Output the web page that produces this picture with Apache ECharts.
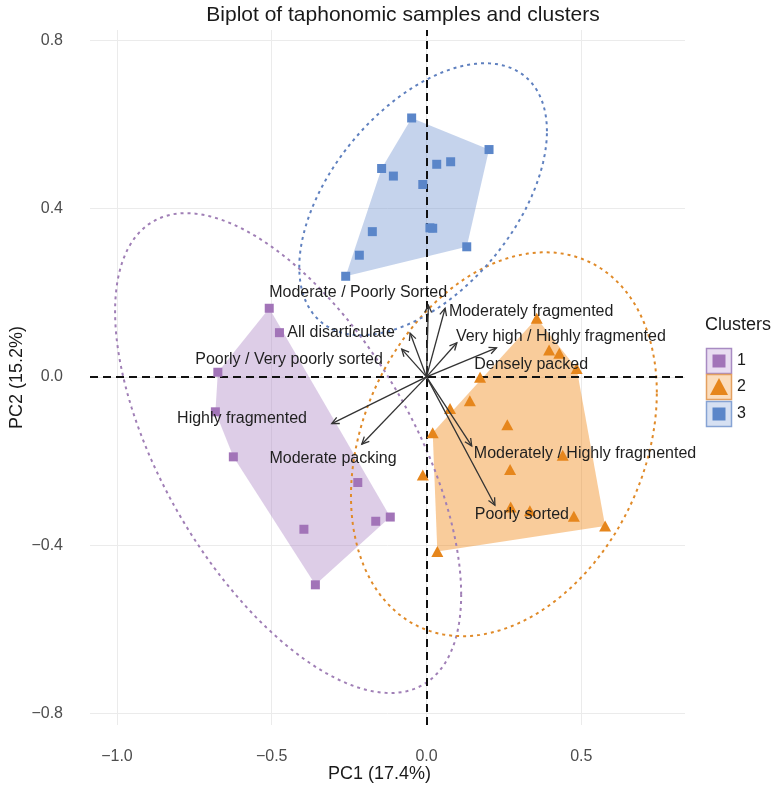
<!DOCTYPE html>
<html><head><meta charset="utf-8">
<script src="https://cdn.jsdelivr.net/npm/echarts@6/dist/echarts.min.js"></script>
<style>html,body{margin:0;padding:0;background:#fff}#c{width:774px;height:789px}</style>
</head><body><div id="c"></div>
<script>
// ---- Data ----
const clusterNames = ['1', '2', '3'];
// Cluster 1 (purple squares)
const c1x = [-0.508, -0.475, -0.674, -0.682, -0.624, -0.222, -0.117, -0.164, -0.396, -0.359];
const c1y = [0.163, 0.105, 0.011, -0.083, -0.190, -0.251, -0.333, -0.343, -0.362, -0.494];
const hull1 = [0, 2, 3, 4, 9, 6];
// Cluster 2 (orange triangles)
const c2x = [0.356, 0.396, 0.429, 0.485, 0.173, 0.140, 0.076, 0.020, 0.261, 0.440, 0.270, -0.012, 0.272, 0.334, 0.476, 0.577, 0.035];
const c2y = [0.139, 0.064, 0.056, 0.020, -0.001, -0.057, -0.075, -0.133, -0.114, -0.186, -0.220, -0.233, -0.309, -0.318, -0.331, -0.354, -0.415];
const hull2 = [0, 3, 15, 16, 7];
// Cluster 3 (blue squares)
const c3x = [-0.048, 0.202, -0.145, -0.107, 0.033, 0.078, -0.012, 0.011, 0.020, -0.175, 0.130, -0.217, -0.261];
const c3y = [0.615, 0.540, 0.495, 0.477, 0.505, 0.511, 0.457, 0.354, 0.353, 0.345, 0.309, 0.289, 0.239];
const hull3 = [0, 1, 10, 12, 2];

// Variable loadings (arrow tips)
const varNames = ['Moderate / Poorly Sorted', 'Moderately fragmented', 'All disarticulate', 'Poorly / Very poorly sorted',
  'Very high / Highly fragmented', 'Densely packed', 'Moderately / Highly fragmented', 'Poorly sorted',
  'Highly fragmented', 'Moderate packing'];
const varX = [0.006, 0.060, -0.053, -0.080, 0.098, 0.226, 0.146, 0.221, -0.306, -0.209];
const varY = [0.170, 0.163, 0.104, 0.066, 0.081, 0.069, -0.164, -0.305, -0.111, -0.160];
// Label anchor positions (data units)
const labX = [-0.221, 0.338, -0.276, -0.444, 0.434, 0.338, 0.512, 0.308, -0.596, -0.302];
const labY = [0.200, 0.154, 0.106, 0.040, 0.095, 0.030, -0.183, -0.328, -0.098, -0.193];

// Confidence ellipses: centre, half-ranges and x/y phase cosine (clusters 1,2,3)
const ellCx = [-0.447, 0.250, -0.011];
const ellCy = [-0.181, -0.160, 0.422];
const ellRx = [0.559, 0.494, 0.400];
const ellRy = [0.570, 0.456, 0.323];
const ellCos = [-0.59, 0.27, 0.50];

const xTicks = [-1.0, -0.5, 0.0, 0.5];
const yTicks = [-0.8, -0.4, 0.0, 0.4, 0.8];
const xRange = [-1.087, 0.835];
const yRange = [-0.827, 0.824];

// ---- Styles ----
const ptColors = ['#A274B8', '#E6861C', '#5B86C9'];
const hullFill = ['rgba(170,130,195,0.40)', 'rgba(240,127,5,0.40)', 'rgba(110,145,208,0.40)'];
const ellColors = ['#A07FB6', '#E08A28', '#5F80BF'];
const FONT = 'Liberation Sans, Arial, Helvetica, sans-serif';

function zip(xs, ys) { return xs.map((x, i) => [x, ys[i]]); }
function ellipse(i) {
  const phi = Math.acos(ellCos[i]);
  const pts = [];
  for (let k = 0; k <= 200; k++) {
    const t = k / 200 * 2 * Math.PI;
    pts.push([ellCx[i] + ellRx[i] * Math.cos(t), ellCy[i] + ellRy[i] * Math.cos(t - phi)]);
  }
  return pts;
}
function hullSeries(xs, ys, order, fill) {
  const pts = order.map(i => [xs[i], ys[i]]);
  return {
    type: 'custom', z: 1, silent: true, clip: false,
    data: pts,
    renderItem: function (params, api) {
      if (params.dataIndex !== 0) return null;
      return { type: 'polygon', shape: { points: pts.map(p => api.coord(p)) }, style: { fill: fill, stroke: null } };
    }
  };
}
function ellSeries(i) {
  return {
    type: 'line', z: 2, silent: true, showSymbol: false, smooth: false,
    data: ellipse(i),
    lineStyle: { color: ellColors[i], width: 2, type: [3, 4] }
  };
}
const fmt = v => (Math.round(v * 10) / 10).toFixed(1).replace('-', '\u2212');

const chart = echarts.init(document.getElementById('c'), null, { renderer: 'canvas' });
const option = {
  animation: false,
  backgroundColor: '#fff',
  grid: { left: 90, right: 89, top: 30, bottom: 64, containLabel: false, outerBoundsMode: 'none' },
  xAxis: {
    type: 'value', min: xRange[0], max: xRange[1],
    axisLine: { show: false }, axisTick: { show: false, customValues: xTicks }, splitLine: { show: false },
    axisLabel: { customValues: xTicks, formatter: fmt, color: '#4D4D4D', fontSize: 16, fontFamily: FONT, margin: 24 },
    name: 'PC1 (17.4%)', nameLocation: 'middle', nameGap: 40, nameMoveOverlap: false,
    nameTextStyle: { color: '#1a1a1a', fontSize: 18, fontFamily: FONT, padding: [0, 16, 0, 0] }
  },
  yAxis: {
    type: 'value', min: yRange[0], max: yRange[1],
    axisLine: { show: false }, axisTick: { show: false, customValues: yTicks }, splitLine: { show: false },
    axisLabel: { customValues: yTicks, formatter: fmt, color: '#4D4D4D', fontSize: 16, fontFamily: FONT, margin: 27 },
    name: 'PC2 (15.2%)', nameLocation: 'middle', nameGap: 64, nameRotate: 90, nameMoveOverlap: false,
    nameTextStyle: { color: '#1a1a1a', fontSize: 18, fontFamily: FONT }
  },
  graphic: [
    { type: 'text', x: 403, y: 15, style: { text: 'Biplot of taphonomic samples and clusters', fill: '#1a1a1a', font: '21px ' + FONT, align: 'center', verticalAlign: 'middle' } },
    { type: 'text', x: 738, y: 325, style: { text: 'Clusters', fill: '#1a1a1a', font: '18px ' + FONT, align: 'center', verticalAlign: 'middle' } },
    // legend keys
    { type: 'rect', shape: { x: 706.5, y: 348.5, width: 25, height: 25 }, style: { fill: '#E9DDF1', stroke: '#A88BC2', lineWidth: 1.5 } },
    { type: 'rect', shape: { x: 712.5, y: 354.5, width: 13, height: 13 }, style: { fill: ptColors[0] } },
    { type: 'rect', shape: { x: 706.5, y: 374.5, width: 25, height: 25 }, style: { fill: '#FBDDBD', stroke: '#E3A060', lineWidth: 1.5 } },
    { type: 'polygon', shape: { points: [[719, 378], [728, 395], [710, 395]] }, style: { fill: ptColors[1] } },
    { type: 'rect', shape: { x: 706.5, y: 401.5, width: 25, height: 25 }, style: { fill: '#D6E0F2', stroke: '#86A3D4', lineWidth: 1.5 } },
    { type: 'rect', shape: { x: 712.5, y: 407.5, width: 13, height: 13 }, style: { fill: ptColors[2] } },
    { type: 'text', x: 737, y: 361, style: { text: clusterNames[0], fill: '#1a1a1a', font: '16px ' + FONT, align: 'left', verticalAlign: 'middle' } },
    { type: 'text', x: 737, y: 387, style: { text: clusterNames[1], fill: '#1a1a1a', font: '16px ' + FONT, align: 'left', verticalAlign: 'middle' } },
    { type: 'text', x: 737, y: 414, style: { text: clusterNames[2], fill: '#1a1a1a', font: '16px ' + FONT, align: 'left', verticalAlign: 'middle' } }
  ],
  series: [
    // gridlines
    {
      type: 'line', data: [], silent: true,
      markLine: {
        silent: true, symbol: ['none', 'none'], z: 0, label: { show: false },
        lineStyle: { color: '#EBEBEB', width: 1, type: 'solid' },
        data: xTicks.map(v => ({ xAxis: v })).concat(yTicks.map(v => ({ yAxis: v })))
      }
    },
    hullSeries(c1x, c1y, hull1, hullFill[0]),
    hullSeries(c2x, c2y, hull2, hullFill[1]),
    hullSeries(c3x, c3y, hull3, hullFill[2]),
    ellSeries(0), ellSeries(1), ellSeries(2),
    // zero reference lines
    {
      type: 'line', data: [], silent: true,
      markLine: {
        silent: true, symbol: ['none', 'none'], z: 3, label: { show: false },
        lineStyle: { color: '#111', width: 2, type: [8, 5] },
        data: [{ xAxis: 0 }, { yAxis: 0 }]
      }
    },
    { type: 'scatter', z: 4, name: '1', symbol: 'rect', symbolSize: 9, data: zip(c1x, c1y), itemStyle: { color: ptColors[0], opacity: 1 } },
    { type: 'scatter', z: 4, name: '2', symbol: 'triangle', symbolSize: [12, 11], data: zip(c2x, c2y), itemStyle: { color: ptColors[1], opacity: 1 } },
    { type: 'scatter', z: 4, name: '3', symbol: 'rect', symbolSize: 9, data: zip(c3x, c3y), itemStyle: { color: ptColors[2], opacity: 1 } },
    // arrows
    {
      type: 'custom', z: 5, silent: true, clip: false,
      data: zip(varX, varY),
      renderItem: function (params, api) {
        const o = api.coord([0, 0]);
        const p = api.coord([api.value(0), api.value(1)]);
        const ang = Math.atan2(p[1] - o[1], p[0] - o[0]);
        const L = 8, a = Math.PI / 7;
        const h1 = [p[0] - L * Math.cos(ang - a), p[1] - L * Math.sin(ang - a)];
        const h2 = [p[0] - L * Math.cos(ang + a), p[1] - L * Math.sin(ang + a)];
        return {
          type: 'group', children: [
            { type: 'line', shape: { x1: o[0], y1: o[1], x2: p[0], y2: p[1] }, style: { stroke: '#333', lineWidth: 1.3 } },
            { type: 'polyline', shape: { points: [h1, p, h2] }, style: { stroke: '#333', lineWidth: 1.3, fill: null } }
          ]
        };
      }
    },
    // arrow labels
    {
      type: 'custom', z: 6, silent: true, clip: false,
      data: zip(labX, labY),
      renderItem: function (params, api) {
        const p = api.coord([api.value(0), api.value(1)]);
        return {
          type: 'text', x: p[0], y: p[1],
          style: { text: varNames[params.dataIndex], fill: '#1f1f1f', font: '16px ' + FONT, align: 'center', verticalAlign: 'middle' }
        };
      }
    }
  ]
};
chart.setOption(option);
</script></body></html>
